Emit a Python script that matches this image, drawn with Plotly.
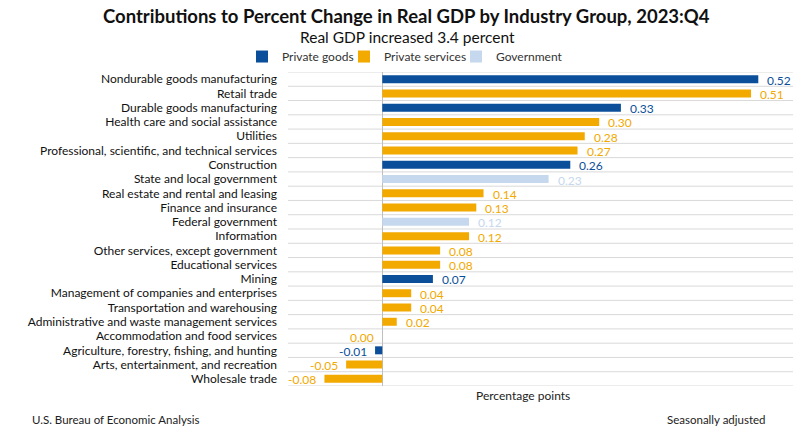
import plotly.graph_objects as go

categories = [
    "Nondurable goods manufacturing",
    "Retail trade",
    "Durable goods manufacturing",
    "Health care and social assistance",
    "Utilities",
    "Professional, scientific, and technical services",
    "Construction",
    "State and local government",
    "Real estate and rental and leasing",
    "Finance and insurance",
    "Federal government",
    "Information",
    "Other services, except government",
    "Educational services",
    "Mining",
    "Management of companies and enterprises",
    "Transportation and warehousing",
    "Administrative and waste management services",
    "Accommodation and food services",
    "Agriculture, forestry, fishing, and hunting",
    "Arts, entertainment, and recreation",
    "Wholesale trade",
]
values = [0.52, 0.51, 0.33, 0.30, 0.28, 0.27, 0.26, 0.23, 0.14, 0.13, 0.12,
          0.12, 0.08, 0.08, 0.07, 0.04, 0.04, 0.02, 0.00, -0.01, -0.05, -0.08]
groups = ["Private goods", "Private services", "Private goods", "Private services",
          "Private services", "Private services", "Private goods", "Government",
          "Private services", "Private services", "Government", "Private services",
          "Private services", "Private services", "Private goods", "Private services",
          "Private services", "Private services", "Private services", "Private goods",
          "Private services", "Private services"]
group_order = ["Private goods", "Private services", "Government"]
colors = {"Private goods": "#0B4F9A", "Private services": "#F2A900", "Government": "#C6D8EE"}

FONT = "Lato"


def px_x(p):
    return (p - 288) / 505.0


def px_y(p):
    return (386 - p) / 314.5


legend_names = ["legend", "legend2", "legend3"]
legend_px = [257, 359, 471]

fig = go.Figure()
for g, lg in zip(group_order, legend_names):
    ys = [c for c, gg in zip(categories, groups) if gg == g]
    xs = [v for v, gg in zip(values, groups) if gg == g]
    fig.add_trace(go.Bar(x=xs, y=ys, orientation="h", name=g, legend=lg,
                         marker=dict(color=colors[g], line=dict(width=0)),
                         hoverinfo="x+y"))

annotations = []
for c, v, g in zip(categories, values, groups):
    pos = v > 0
    annotations.append(dict(x=v, y=c, xref="x", yref="y", text=f"{v:.2f}",
                            showarrow=False, xanchor="left" if pos else "right",
                            xshift=7 if pos else -6, yshift=-1,
                            font=dict(family=FONT, size=12, color=colors[g])))

annotations += [
    dict(text="<b>Contributions to Percent Change in Real GDP by Industry Group, 2023:Q4</b>",
         x=px_x(406), y=px_y(15), xref="paper", yref="paper", showarrow=False,
         xanchor="center", yanchor="middle", font=dict(family=FONT, size=18.5, color="#111111")),
    dict(text="Real GDP increased 3.4 percent",
         x=px_x(407), y=px_y(36), xref="paper", yref="paper", showarrow=False,
         xanchor="center", yanchor="middle", font=dict(family=FONT, size=15.5, color="#111111")),
    dict(text="Percentage points",
         x=px_x(523), y=px_y(396), xref="paper", yref="paper", showarrow=False,
         xanchor="center", yanchor="middle", font=dict(family=FONT, size=12, color="#222222")),
    dict(text="U.S. Bureau of Economic Analysis",
         x=px_x(30), y=px_y(420), xref="paper", yref="paper", showarrow=False,
         xanchor="left", yanchor="middle", font=dict(family=FONT, size=11.5, color="#222222")),
    dict(text="Seasonally adjusted",
         x=px_x(768), y=px_y(420), xref="paper", yref="paper", showarrow=False,
         xanchor="right", yanchor="middle", font=dict(family=FONT, size=11.5, color="#222222")),
]

# horizontal gridlines at category boundaries
shapes = []
for i in range(len(categories) + 1):
    shapes.append(dict(type="line", xref="paper", x0=0, x1=1, yref="y",
                       y0=i - 0.5, y1=i - 0.5, layer="below",
                       line=dict(color="#D9D9D9", width=1)))

legend_layout = {}
for lg, lx in zip(legend_names, legend_px):
    legend_layout[lg] = dict(orientation="h", x=px_x(lx - 15), xanchor="left",
                             y=px_y(56), yanchor="middle",
                             font=dict(family=FONT, size=12, color="#333333"),
                             itemwidth=30, bgcolor="rgba(0,0,0,0)")

fig.update_layout(
    width=802, height=447,
    margin=dict(l=288, r=9, t=71.5, b=61, autoexpand=False),
    paper_bgcolor="white", plot_bgcolor="white",
    barmode="relative", bargap=0.44,
    showlegend=True,
    xaxis=dict(range=[-0.1304, 0.568], showticklabels=False, showgrid=False,
               zeroline=True, zerolinecolor="#BFBFBF", zerolinewidth=1,
               fixedrange=True),
    yaxis=dict(type="category", categoryorder="array", categoryarray=categories,
               tickmode="array", tickvals=categories, ticktext=categories,
               range=[len(categories) - 0.5, -0.5], showgrid=False,
               ticks="", ticklen=0, ticklabelstandoff=10,
               tickfont=dict(family=FONT, size=12, color="#111111"),
               showline=False, fixedrange=True),
    annotations=annotations,
    shapes=shapes,
    font=dict(family=FONT),
    **legend_layout,
)

fig.write_html("out.html")
